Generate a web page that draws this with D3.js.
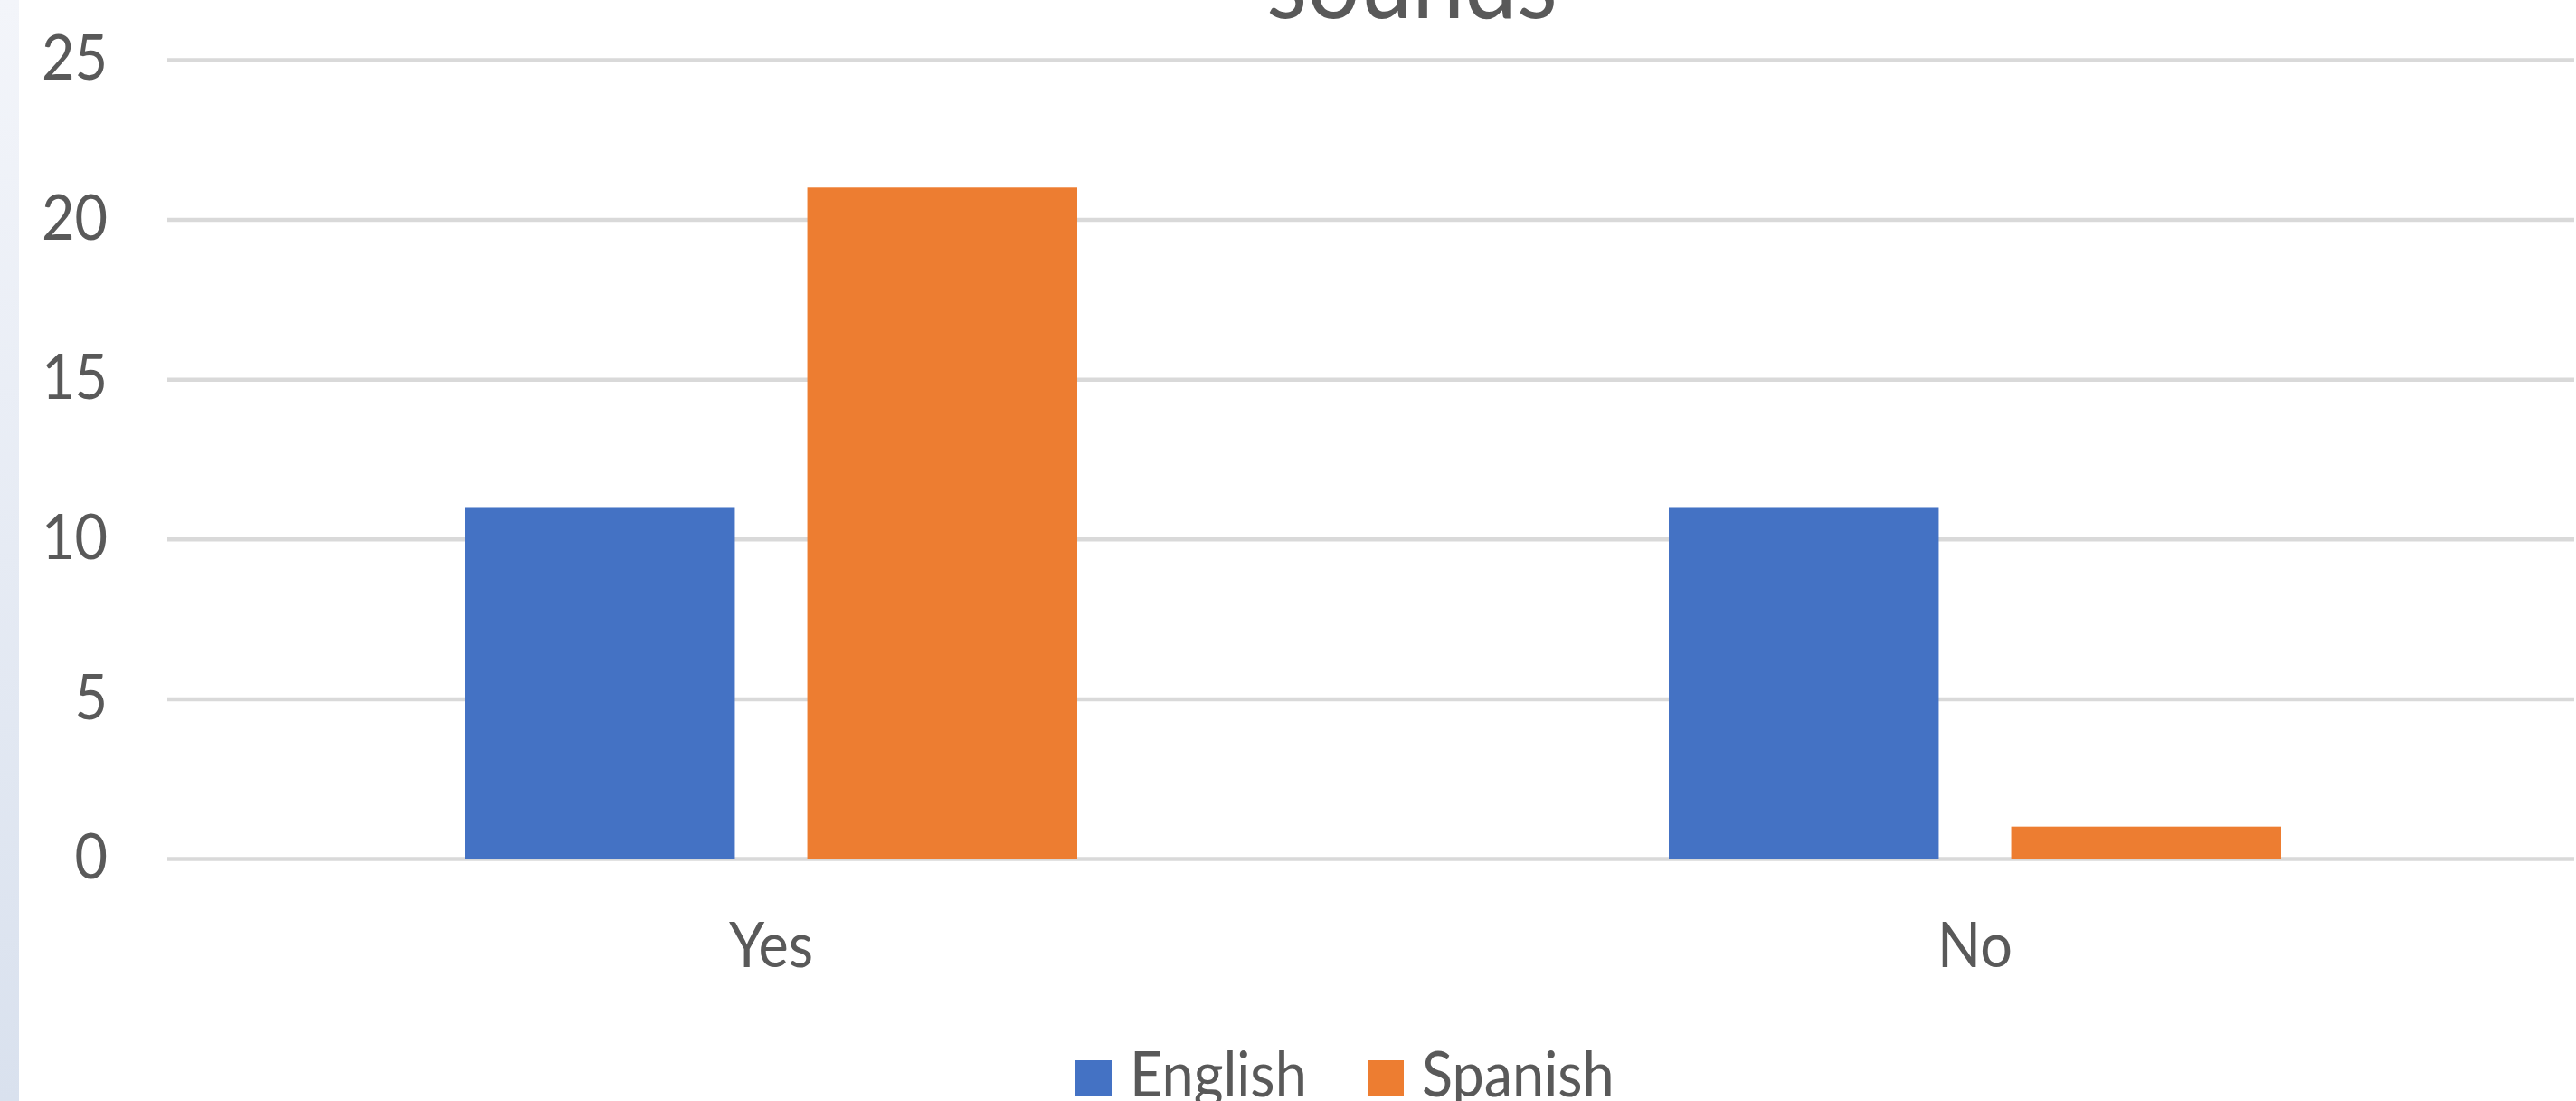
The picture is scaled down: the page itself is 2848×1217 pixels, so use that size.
<!DOCTYPE html>
<html>
<head>
<meta charset="utf-8">
<script src="https://cdn.jsdelivr.net/npm/d3@7"></script>
<style>
  html, body { margin: 0; padding: 0; background: #ffffff; overflow: hidden; }
  svg { display: block; }
</style>
</head>
<body>
<svg id="chart" width="2848" height="1217"></svg>
<script>
// ---- data ----
const categories = ["Yes", "No"];
const seriesNames = ["English", "Spanish"];
const englishValues = [11, 11];
const spanishValues = [21, 1];
const seriesColors = ["#4472c4", "#ed7d31"];
const yTicks = [0, 5, 10, 15, 20, 25];
const titleText = "sounds";

// ---- layout ----
const W = 2848, H = 1217;
const plotLeft = 187, plotRight = 2849;
const plotTop = 66, plotBottom = 949;
const textColor = "#595959";
const gridColor = "#d9d9d9";
const fontFamily = "Lato, 'Open Sans', sans-serif";
const sx = 0.9; // horizontal text compression

const svg = d3.select("#chart");

// background strip on left
const defs = svg.append("defs");
const grad = defs.append("linearGradient").attr("id", "strip").attr("x1", 0).attr("y1", 0).attr("x2", 0).attr("y2", 1);
grad.append("stop").attr("offset", "0%").attr("stop-color", "#f3f5fa");
grad.append("stop").attr("offset", "100%").attr("stop-color", "#d9e1ee");
svg.append("rect").attr("x", 0).attr("y", 0).attr("width", 21).attr("height", H).attr("fill", "url(#strip)");

// scales
const y = d3.scaleLinear().domain([0, 25]).range([plotBottom, plotTop]);
const x0 = d3.scaleBand().domain(categories).range([plotLeft, plotRight]).paddingInner(0).paddingOuter(0);
const groupOffset = 327, groupWidth = 677;
const x1 = d3.scaleBand().domain(seriesNames).range([groupOffset, groupOffset + groupWidth]).paddingInner(80 / 378).paddingOuter(0);

// y axis with gridlines
const yAxis = d3.axisLeft(y).tickValues(yTicks).tickSize(-(W - plotLeft)).tickPadding(0).tickFormat(d3.format("d"));
const yg = svg.append("g").attr("transform", `translate(${plotLeft - 2},0)`).call(yAxis);
yg.select(".domain").remove();
yg.selectAll(".tick line").attr("stroke", gridColor).attr("stroke-width", 4.5);
yg.selectAll(".tick text")
  .attr("x", 0)
  .attr("dy", "0.31em")
  .attr("transform", `translate(-66,0) scale(${sx},1)`)
  .attr("fill", textColor)
  .attr("font-family", fontFamily)
  .attr("font-size", 70)
  .attr("text-anchor", "end");

// bars
const rows = categories.map((c, i) => ({ cat: c, values: [englishValues[i], spanishValues[i]] }));
const groups = svg.append("g").selectAll("g").data(rows).join("g")
  .attr("transform", d => `translate(${x0(d.cat)},0)`);
groups.selectAll("rect").data(d => d.values.map((v, j) => ({ series: seriesNames[j], value: v, color: seriesColors[j] })))
  .join("rect")
  .attr("x", d => x1(d.series))
  .attr("width", x1.bandwidth())
  .attr("y", d => y(d.value))
  .attr("height", d => y(0) - y(d.value))
  .attr("fill", d => d.color);

// x axis labels
const xAxis = d3.axisBottom(x0).tickSize(0).tickPadding(0);
const xg = svg.append("g").attr("transform", `translate(0,${plotBottom})`).call(xAxis);
xg.select(".domain").remove();
xg.selectAll(".tick text")
  .attr("y", 0).attr("dy", 0)
  .attr("transform", `translate(0,120) scale(${sx},1)`)
  .attr("fill", textColor)
  .attr("font-family", fontFamily)
  .attr("font-size", 70)
  .attr("text-anchor", "middle");

// title
svg.append("text")
  .attr("transform", `translate(1561,20) scale(${sx},1)`)
  .attr("text-anchor", "middle")
  .attr("fill", textColor)
  .attr("font-family", fontFamily)
  .attr("font-size", 115)
  .text(titleText);

// legend
const legendX = [1189, 1512];
const legend = svg.append("g").selectAll("g").data(seriesNames).join("g")
  .attr("transform", (d, i) => `translate(${legendX[i]},1172)`);
legend.append("rect").attr("x", 0).attr("y", 0).attr("width", 40).attr("height", 40)
  .attr("fill", (d, i) => seriesColors[i]);
legend.append("text")
  .attr("transform", `translate(60,40) scale(${sx},1)`)
  .attr("fill", textColor)
  .attr("font-family", fontFamily)
  .attr("font-size", 70)
  .text(d => d);
</script>
</body>
</html>
